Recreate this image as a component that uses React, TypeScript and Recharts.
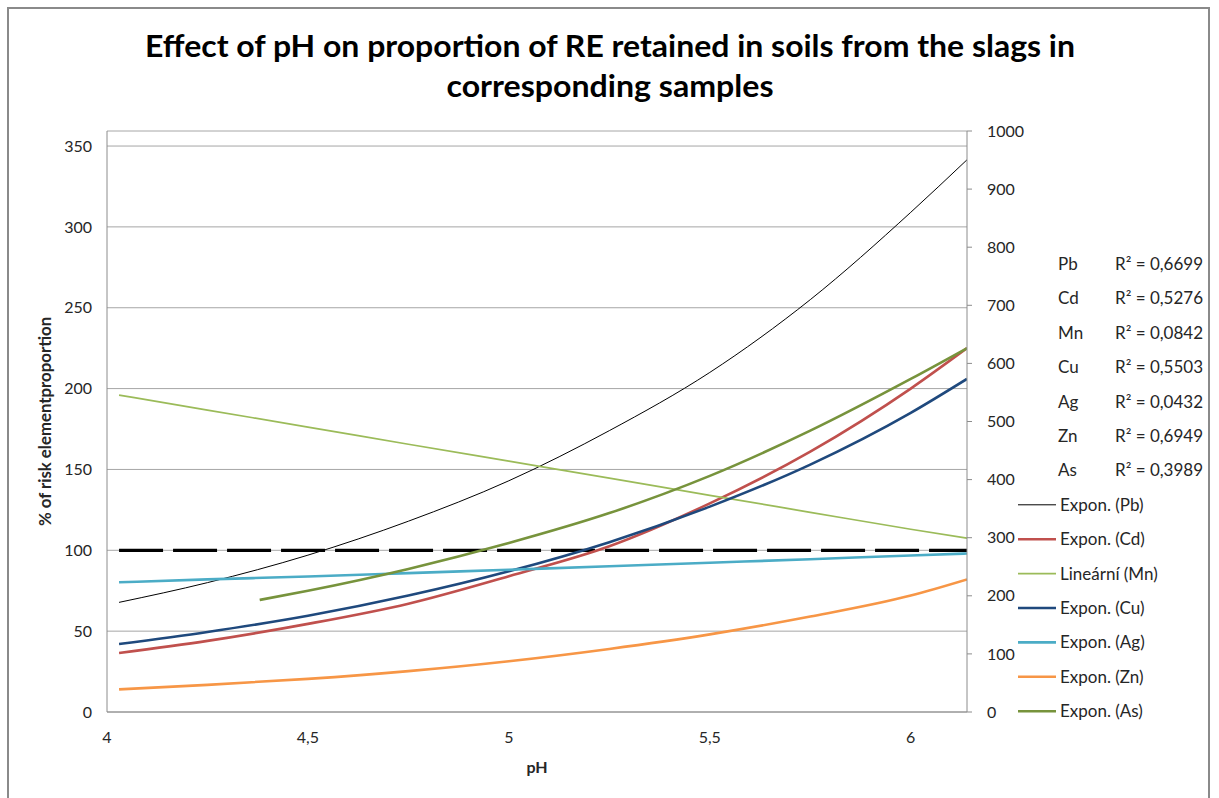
import { LineChart, Line, XAxis, YAxis, CartesianGrid } from "recharts";

// pH grid the trend lines were read at
const pH = [4.03, 4.25, 4.5, 4.75, 5, 5.25, 5.5, 5.75, 6, 6.14];
const pb = [67.8, 80, 97, 118, 143, 174, 210, 255, 309, 341.5];
const cd = [36.5, 44, 54.5, 67, 84, 102.5, 129, 161, 200, 225];
const mn = [196, 186.7, 176.2, 165.6, 155.1, 144.6, 134, 123.5, 113, 107.5];
const cu = [42, 49.5, 59.5, 72, 87, 105, 127, 153, 185, 206];
const ag = [80.2, 82, 83.8, 85.9, 88, 90.1, 92.3, 94.5, 96.8, 98];
const zn = [14, 16.8, 20.5, 25.3, 31.4, 39, 48, 59, 72, 82];
// As trend starts later
const asPH = [4.38, 4.5, 4.75, 5, 5.25, 5.5, 5.75, 6, 6.14];
const asv = [69.3, 75, 88.5, 104.5, 123, 146, 174, 206, 225];
// 100 % line
const limitPH = [4.03, 6.14];
const limit = [100, 100];

const xTicks = [4, 4.5, 5, 5.5, 6];
const leftTicks = [0, 50, 100, 150, 200, 250, 300, 350];
const rightTicks = [0, 100, 200, 300, 400, 500, 600, 700, 800, 900, 1000];

const r2 = ["0,6699", "0,5276", "0,0842", "0,5503", "0,0432", "0,6949", "0,3989"];

const toPoints = (xs: number[], ys: number[]) => xs.map((x, i) => ({ ph: x, v: ys[i] }));

const series = [
  { el: "Pb", label: "Expon. (Pb)", color: "#000000", w: 1, data: toPoints(pH, pb) },
  { el: "Cd", label: "Expon. (Cd)", color: "#C0504D", w: 2.6, data: toPoints(pH, cd) },
  { el: "Mn", label: "Lineární (Mn)", color: "#9BBB59", w: 1.7, data: toPoints(pH, mn) },
  { el: "Cu", label: "Expon. (Cu)", color: "#1F497D", w: 2.6, data: toPoints(pH, cu) },
  { el: "Ag", label: "Expon. (Ag)", color: "#4BACC6", w: 2.6, data: toPoints(pH, ag) },
  { el: "Zn", label: "Expon. (Zn)", color: "#F79646", w: 2.6, data: toPoints(pH, zn) },
  { el: "As", label: "Expon. (As)", color: "#77933C", w: 2.6, data: toPoints(asPH, asv) },
];

const FONT = "Lato, 'Open Sans', sans-serif";
const AXIS = "#8c8c8c";
const TEXT = "#262626";

const fmt = (v: number) => String(v).replace(".", ",");

export default function App() {
  const rowY = (i: number) => 264 + i * 34.4;
  return (
    <div style={{ position: "absolute", left: 0, top: 0, width: 1219, height: 798, background: "#fff", overflow: "hidden", fontFamily: FONT }}>
      <div style={{ position: "absolute", left: 7, top: 7, width: 1199, height: 820, border: "2px solid #8a8a8a" }} />
      <LineChart width={1219} height={798} margin={{ top: 131, left: 47, right: 192, bottom: 36 }}>
        <CartesianGrid yAxisId="left" vertical={false} stroke="#a6a6a6" strokeWidth={1} />
        <XAxis
          dataKey="ph"
          type="number"
          domain={[4, 6.14]}
          ticks={xTicks}
          allowDataOverflow
          tickFormatter={fmt}
          height={50}
          tickLine={false}
          tickSize={0}
          tickMargin={20}
          axisLine={{ stroke: AXIS }}
          tick={{ fill: TEXT, fontSize: 16, fontFamily: FONT }}
          label={{ value: "pH", position: "bottom", offset: 0, fill: TEXT, fontSize: 16, fontWeight: "bold", fontFamily: FONT }}
        />
        <YAxis
          yAxisId="left"
          type="number"
          domain={[0, 359.3]}
          ticks={leftTicks}
          allowDataOverflow
          width={60}
          tickLine={false}
          tickSize={0}
          tickMargin={15}
          axisLine={{ stroke: AXIS }}
          tick={{ fill: TEXT, fontSize: 16, fontFamily: FONT }}
          label={{ value: "% of risk elementproportion", angle: -90, position: "insideLeft", offset: -2, textAnchor: "middle", fill: TEXT, fontSize: 16.8, fontWeight: "bold", fontFamily: FONT }}
        />
        <YAxis
          yAxisId="right"
          orientation="right"
          type="number"
          domain={[0, 1000]}
          ticks={rightTicks}
          allowDataOverflow
          width={60}
          tickSize={5}
          tickMargin={15}
          tickLine={{ stroke: AXIS }}
          axisLine={{ stroke: AXIS }}
          tick={{ fill: TEXT, fontSize: 16, fontFamily: FONT, textAnchor: "start" }}
        />
        <Line
          yAxisId="left"
          data={toPoints(limitPH, limit)}
          dataKey="v"
          stroke="#000"
          strokeWidth={3.2}
          strokeDasharray="44 10"
          dot={false}
          isAnimationActive={false}
        />
        {series.map((s) => (
          <Line
            key={s.el}
            yAxisId="left"
            data={s.data}
            dataKey="v"
            name={s.label}
            type="monotone"
            stroke={s.color}
            strokeWidth={s.w}
            dot={false}
            isAnimationActive={false}
          />
        ))}
      </LineChart>
      <svg width={1219} height={798} style={{ position: "absolute", left: 0, top: 0, pointerEvents: "none" }}>
        <text x={610} y={57} textAnchor="middle" fontSize={31} fontWeight="bold" fill="#000" fontFamily={FONT} textLength={930} lengthAdjust="spacingAndGlyphs">
          Effect of pH on proportion of RE retained in soils from the slags in
        </text>
        <text x={610} y={97} textAnchor="middle" fontSize={31} fontWeight="bold" fill="#000" fontFamily={FONT} textLength={327} lengthAdjust="spacingAndGlyphs">
          corresponding samples
        </text>
        {series.map((s, i) => (
          <g key={s.el}>
            <text x={1058} y={rowY(i)} dy="0.35em" fontSize={17} fill={TEXT} fontFamily={FONT}>{s.el}</text>
            <text x={1115} y={rowY(i)} dy="0.35em" fontSize={17} fill={TEXT} fontFamily={FONT}>{`R² = ${r2[i]}`}</text>
          </g>
        ))}
        {series.map((s, i) => (
          <g key={s.label}>
            <line x1={1018} x2={1056} y1={rowY(i + 7)} y2={rowY(i + 7)} stroke={s.color} strokeWidth={s.w} />
            <text x={1060} y={rowY(i + 7)} dy="0.35em" fontSize={17} fill={TEXT} fontFamily={FONT}>{s.label}</text>
          </g>
        ))}
      </svg>
    </div>
  );
}
